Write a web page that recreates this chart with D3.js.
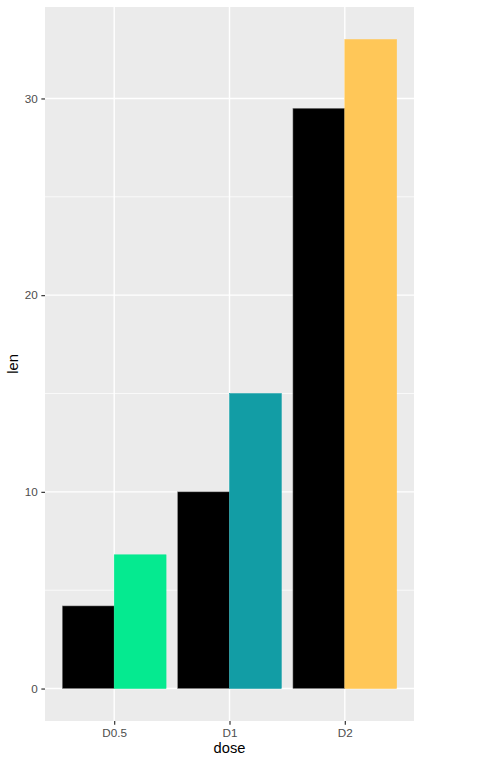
<!DOCTYPE html>
<html><head><meta charset="utf-8">
<script src="https://cdn.jsdelivr.net/npm/d3@7"></script>
<style>body{margin:0;background:#fff}svg{display:block;font-family:"Liberation Sans",Arial,Helvetica,sans-serif}</style>
</head><body><svg id="c" width="497" height="763"></svg>
<script>
const categories = ["D0.5","D1","D2"];
const series1 = [4.2, 10.0, 29.5];
const series2 = [6.8, 15.0, 33.0];
const fills2 = ["#05EA90","#129DA5","#FFC758"];
const yTicks = [0,10,20,30];
const yMinor = [5,15,25];

const W=497,H=763;
const m={l:45,r:83,t:7,b:42};
const svg=d3.select("#c");
const pw=W-m.l-m.r, ph=H-m.t-m.b;
const g=svg.append("g").attr("transform",`translate(${m.l},${m.t})`);
const ymax=d3.max(series2.concat(series1)), ymin=0;
const ex=(ymax-ymin)*0.05;
const y=d3.scaleLinear().domain([ymin-ex,ymax+ex]).range([ph,0]);
const x=d3.scalePoint().domain(categories).range([0,pw]).padding(0.6);
const step=x.step();
const bw=step*0.9/2;

g.append("rect").attr("width",pw).attr("height",ph).attr("fill","#EBEBEB");
g.selectAll(".mn").data(yMinor).enter().append("line").attr("x1",0).attr("x2",pw)
 .attr("y1",d=>y(d)).attr("y2",d=>y(d)).attr("stroke","#fff").attr("stroke-width",0.7);
g.selectAll(".mj").data(yTicks).enter().append("line").attr("x1",0).attr("x2",pw)
 .attr("y1",d=>y(d)).attr("y2",d=>y(d)).attr("stroke","#fff").attr("stroke-width",1.4);
g.selectAll(".vx").data(categories).enter().append("line").attr("y1",0).attr("y2",ph)
 .attr("x1",d=>x(d)).attr("x2",d=>x(d)).attr("stroke","#fff").attr("stroke-width",1.4);

g.selectAll(".b1").data(categories).enter().append("rect")
 .attr("x",d=>x(d)-bw).attr("width",bw)
 .attr("y",(d,i)=>y(series1[i])).attr("height",(d,i)=>y(0)-y(series1[i]))
 .attr("fill","#000").attr("stroke","#8a8a8a").attr("stroke-width",0.5);
g.selectAll(".b2").data(categories).enter().append("rect")
 .attr("x",d=>x(d)).attr("width",bw)
 .attr("y",(d,i)=>y(series2[i])).attr("height",(d,i)=>y(0)-y(series2[i]))
 .attr("fill",(d,i)=>fills2[i]).attr("stroke",(d,i)=>fills2[i]).attr("stroke-width",0.5);

const ya=g.append("g").call(d3.axisLeft(y).tickValues(yTicks).tickSize(3.65).tickPadding(3.5));
ya.select(".domain").remove();
ya.selectAll("line").attr("stroke","#333").attr("stroke-width",1.2);
ya.selectAll("text").attr("fill","#4D4D4D").attr("font-size","11.7px").attr("font-family","inherit");
const xa=g.append("g").attr("transform",`translate(0,${ph})`).call(d3.axisBottom(x).tickSize(3.65).tickPadding(3.6));
xa.select(".domain").remove();
xa.selectAll("line").attr("stroke","#333").attr("stroke-width",1.2);
xa.selectAll("text").attr("fill","#4D4D4D").attr("font-size","11.7px").attr("font-family","inherit");

svg.append("text").attr("x",m.l+pw/2).attr("y",752.5).attr("text-anchor","middle")
 .attr("font-size","14.7px").attr("fill","#000").text("dose");
svg.append("text").attr("transform",`translate(18,${m.t+ph/2}) rotate(-90)`).attr("text-anchor","middle")
 .attr("font-size","14.7px").attr("fill","#000").text("len");
</script></body></html>
